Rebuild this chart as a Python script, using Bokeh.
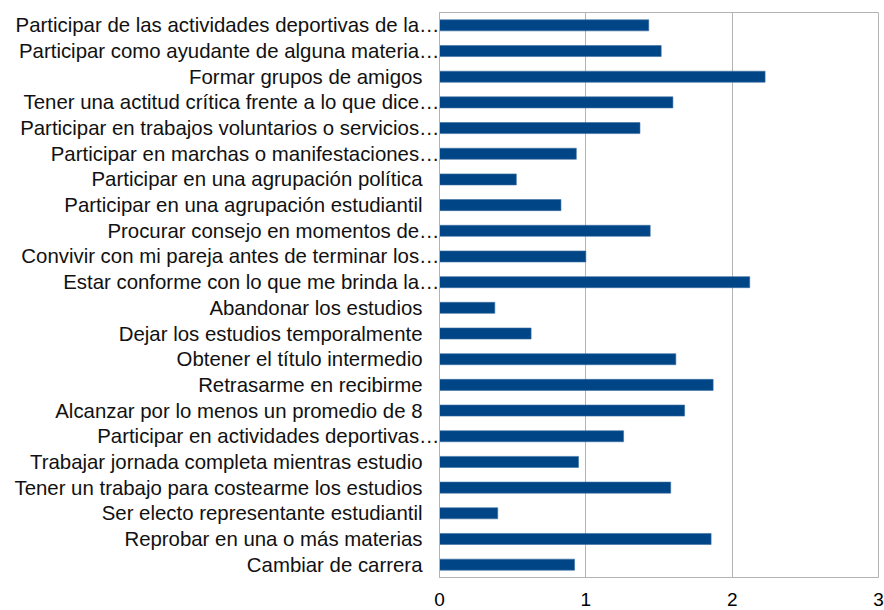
from bokeh.plotting import figure
from bokeh.models import FactorRange, Range1d, FixedTicker
from bokeh.embed import file_html
from bokeh.resources import INLINE

NB = "\u00a0"
categories = [
    "Participar de las actividades deportivas de la…",
    "Participar como ayudante de alguna materia…",
    "Formar grupos de amigos" + NB * 3,
    "Tener una actitud crítica frente a lo que dice…",
    "Participar en trabajos voluntarios o servicios…",
    "Participar en marchas o manifestaciones…",
    "Participar en una agrupación política" + NB * 3,
    "Participar en una agrupación estudiantil" + NB * 3,
    "Procurar consejo en momentos de…",
    "Convivir con mi pareja antes de terminar los…",
    "Estar conforme con lo que me brinda la…",
    "Abandonar los estudios" + NB * 3,
    "Dejar los estudios temporalmente" + NB * 3,
    "Obtener el título intermedio" + NB * 3,
    "Retrasarme en recibirme" + NB * 3,
    "Alcanzar por lo menos un promedio de 8" + NB * 3,
    "Participar en actividades deportivas…",
    "Trabajar jornada completa mientras estudio" + NB * 3,
    "Tener un trabajo para costearme los estudios" + NB * 3,
    "Ser electo representante estudiantil" + NB * 3,
    "Reprobar en una o más materias" + NB * 3,
    "Cambiar de carrera" + NB * 3,
]
values = [1.43, 1.515, 2.225, 1.595, 1.37, 0.935, 0.525, 0.83, 1.44, 1.0, 2.12,
          0.378, 0.626, 1.615, 1.87, 1.675, 1.258, 0.95, 1.58, 0.398, 1.856, 0.923]
x_ticks = [0, 1, 2, 3]

p = figure(
    width=884, height=610,
    y_range=FactorRange(factors=list(reversed(categories)), range_padding=0),
    x_range=Range1d(0, 3),
    output_backend="svg", toolbar_location=None,
    min_border_left=439, min_border_right=6, min_border_top=12, min_border_bottom=33,
)
p.hbar(y=categories, right=values, height=0.43, left=0,
       fill_color="#004586", line_color="#3b6ea3", line_width=0.6)

p.xaxis.ticker = FixedTicker(ticks=x_ticks)
p.xaxis.axis_line_color = "#b3b3b3"
p.xaxis.major_tick_line_color = None
p.xaxis.minor_tick_line_color = None
p.xaxis.major_label_text_font = "Liberation Sans"
p.xaxis.major_label_text_font_size = "19px"
p.xaxis.major_label_text_color = "black"
p.xaxis.major_label_standoff = 9

p.yaxis.axis_line_color = "#b3b3b3"
p.yaxis.major_tick_line_color = None
p.yaxis.minor_tick_line_color = None
p.yaxis.major_tick_out = 0
p.yaxis.major_tick_in = 0
p.yaxis.major_label_standoff = 0
p.yaxis.major_label_text_font = "Liberation Sans"
p.yaxis.major_label_text_font_size = "20.4px"
p.yaxis.major_label_text_color = "#111111"

p.xgrid.grid_line_color = "#b3b3b3"
p.ygrid.grid_line_color = None
p.outline_line_color = "#b3b3b3"
p.background_fill_color = "white"
p.border_fill_color = "white"

open("out.html", "w").write(file_html(p, INLINE))
